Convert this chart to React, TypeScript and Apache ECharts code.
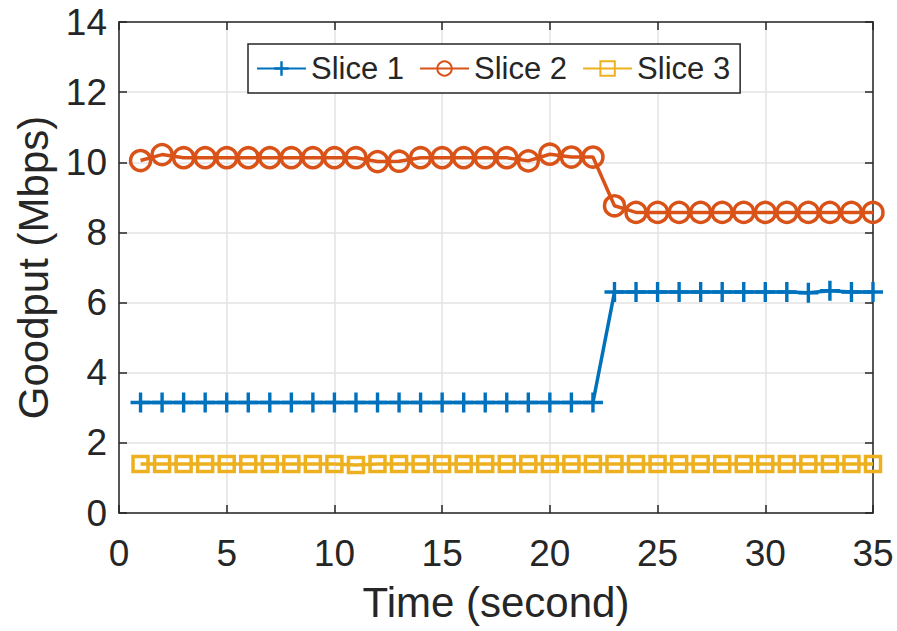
import React, { useEffect, useRef } from "react";
import * as echarts from "echarts";

const times = [1, 2, 3, 4, 5, 6, 7, 8, 9, 10, 11, 12, 13, 14, 15, 16, 17, 18, 19, 20, 21, 22, 23, 24, 25, 26, 27, 28, 29, 30, 31, 32, 33, 34, 35];
const slice1 = [3.15, 3.15, 3.15, 3.15, 3.15, 3.15, 3.15, 3.15, 3.15, 3.15, 3.15, 3.15, 3.15, 3.15, 3.15, 3.15, 3.15, 3.15, 3.15, 3.15, 3.15, 3.15, 6.3, 6.3, 6.3, 6.3, 6.3, 6.3, 6.3, 6.3, 6.3, 6.28, 6.34, 6.3, 6.3];
const slice2 = [10.05, 10.22, 10.13, 10.13, 10.13, 10.13, 10.13, 10.13, 10.13, 10.13, 10.13, 10.02, 10.03, 10.13, 10.13, 10.13, 10.13, 10.13, 10.04, 10.23, 10.15, 10.15, 8.76, 8.57, 8.57, 8.57, 8.57, 8.57, 8.57, 8.57, 8.57, 8.57, 8.57, 8.57, 8.57];
const slice3 = [1.4, 1.4, 1.4, 1.4, 1.4, 1.4, 1.4, 1.4, 1.4, 1.4, 1.37, 1.4, 1.4, 1.4, 1.4, 1.4, 1.4, 1.4, 1.4, 1.4, 1.4, 1.4, 1.4, 1.4, 1.4, 1.4, 1.4, 1.4, 1.4, 1.4, 1.4, 1.4, 1.4, 1.4, 1.4];
const seriesNames = ["Slice 1", "Slice 2", "Slice 3"];
const xTitle = "Time (second)";
const yTitle = "Goodput (Mbps)";

const FONT = "'Liberation Sans', Arial, Helvetica, sans-serif";
const DARK = "#262626";
const PLUS = "path://M-0.17,-1 L0.17,-1 L0.17,-0.17 L1,-0.17 L1,0.17 L0.17,0.17 L0.17,1 L-0.17,1 L-0.17,0.17 L-1,0.17 L-1,-0.17 L-0.17,-0.17 Z";

export default function App() {
  const ref = useRef<HTMLDivElement>(null);
  useEffect(() => {
    if (!ref.current) return;
    const chart = echarts.init(ref.current, null, { renderer: "svg" });
    const pair = (ys: number[]) => times.map((t, i) => [t, ys[i]]);
    const axisCommon = {
      axisLine: { show: true, onZero: false, lineStyle: { color: DARK, width: 1.5 } },
      axisTick: { show: true, inside: true, length: 8, lineStyle: { color: DARK, width: 1.5 } },
    };
    chart.setOption({
      animation: false,
      backgroundColor: "#ffffff",
      textStyle: { fontFamily: FONT },
      grid: { left: 119, right: 24, top: 22, bottom: 118 },
      legend: {
        left: 248,
        top: 44,
        data: seriesNames,
        orient: "horizontal",
        itemWidth: 49,
        itemHeight: 18,
        itemGap: 15,
        padding: [9, 10, 9, 8],
        borderColor: DARK,
        borderWidth: 1.5,
        backgroundColor: "#ffffff",
        textStyle: { fontFamily: FONT, fontSize: 31, color: DARK, padding: [0, 0, 0, 0] },
      },
      xAxis: [
        {
          type: "value",
          min: 0,
          max: 35,
          interval: 5,
          ...axisCommon,
          axisLabel: { fontSize: 37, color: DARK, margin: 22, fontFamily: FONT },
          splitLine: { show: true, lineStyle: { color: "#e3e3e3", width: 1.5 } },
          name: xTitle,
          nameLocation: "middle",
          nameGap: 68,
          nameTextStyle: { fontSize: 42, color: DARK, fontFamily: FONT },
        },
        {
          type: "value",
          position: "top",
          min: 0,
          max: 35,
          interval: 5,
          ...axisCommon,
          axisLabel: { show: false },
          splitLine: { show: false },
        },
      ],
      yAxis: [
        {
          type: "value",
          min: 0,
          max: 14,
          interval: 2,
          ...axisCommon,
          axisLabel: { fontSize: 37, color: DARK, margin: 12, fontFamily: FONT },
          splitLine: { show: true, lineStyle: { color: "#e3e3e3", width: 1.5 } },
          name: yTitle,
          nameLocation: "middle",
          nameGap: 61,
          nameTextStyle: { fontSize: 42, color: DARK, fontFamily: FONT },
        },
        {
          type: "value",
          position: "right",
          min: 0,
          max: 14,
          interval: 2,
          ...axisCommon,
          axisLabel: { show: false },
          splitLine: { show: false },
        },
      ],
      series: [
        {
          name: seriesNames[0],
          type: "line",
          data: pair(slice1),
          color: "#0072BD",
          symbol: PLUS,
          symbolSize: 20,
          showAllSymbol: true,
          lineStyle: { width: 3.5, color: "#0072BD" },
          itemStyle: { color: "#0072BD" },
          z: 3,
        },
        {
          name: seriesNames[1],
          type: "line",
          data: pair(slice2),
          color: "#D95319",
          symbol: "circle",
          symbolSize: 20,
          showAllSymbol: true,
          lineStyle: { width: 3.5, color: "#D95319" },
          itemStyle: { color: "rgba(255,255,255,0)", borderColor: "#D95319", borderWidth: 3.5 },
          z: 2,
        },
        {
          name: seriesNames[2],
          type: "line",
          data: pair(slice3),
          color: "#EDB120",
          symbol: "rect",
          symbolSize: 15,
          showAllSymbol: true,
          lineStyle: { width: 3.5, color: "#EDB120" },
          itemStyle: { color: "rgba(255,255,255,0)", borderColor: "#EDB120", borderWidth: 3.5 },
          z: 2,
        },
      ],
    });
    return () => chart.dispose();
  }, []);
  return <div ref={ref} style={{ width: 897, height: 631, position: "absolute", left: 0, top: 0 }} />;
}
